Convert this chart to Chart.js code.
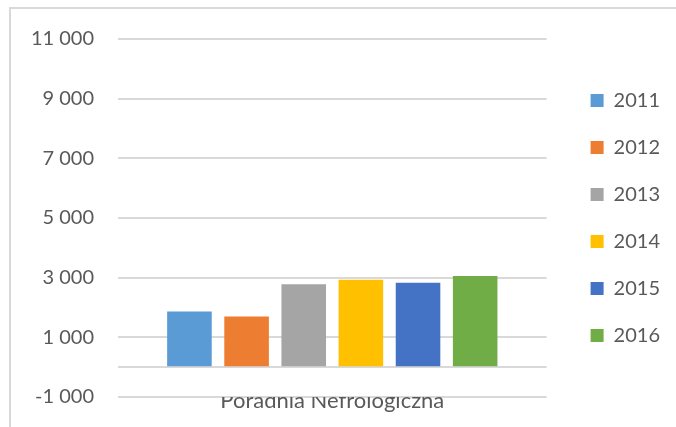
<!DOCTYPE html>
<html>
<head>
<meta charset="utf-8">
<script src="https://cdn.jsdelivr.net/npm/chart.js@4/dist/chart.umd.min.js"></script>
<style>
  html, body { margin: 0; padding: 0; background: #ffffff; }
  #wrap { position: relative; width: 676px; height: 427px; overflow: hidden; }
  #frame {
    position: absolute; left: 9px; top: 7px; right: -4px; bottom: -4px;
    border-top: 2px solid #d9d9d9; border-left: 2px solid #d9d9d9;
  }
  canvas { position: absolute; left: 0; top: 0; }
</style>
</head>
<body>
<div id="wrap">
  <div id="frame"></div>
  <canvas id="chart" width="676" height="427"></canvas>
</div>
<script>
// Number of patients of the nephrology clinic, by year
const categories = ['Poradnia Nefrologiczna'];
const years = ['2011', '2012', '2013', '2014', '2015', '2016'];
const values2011 = [1870];
const values2012 = [1700];
const values2013 = [2780];
const values2014 = [2930];
const values2015 = [2830];
const values2016 = [3060];
const yearColors = ['#5B9BD5', '#ED7D31', '#A5A5A5', '#FFC000', '#4472C4', '#70AD47'];
const yTickValues = [-1000, 0, 1000, 3000, 5000, 7000, 9000, 11000];

const seriesValues = [values2011, values2012, values2013, values2014, values2015, values2016];
const textColor = '#595959';
const fontFamily = 'Lato, "Open Sans", sans-serif';

// "11 000" style thousands grouping
function groupThousands(v) {
  const s = Math.abs(v).toString().replace(/\B(?=(\d{3})+(?!\d))/g, ' ');
  return (v < 0 ? '-' : '') + s;
}

const datasets = years.map((year, i) => ({
  label: year,
  data: seriesValues[i],
  backgroundColor: yearColors[i],
  borderWidth: 0,
  categoryPercentage: 0.80,
  barPercentage: 0.78
}));

new Chart(document.getElementById('chart'), {
  type: 'bar',
  data: { labels: categories, datasets },
  options: {
    responsive: false,
    animation: false,
    layout: { padding: { left: 12, top: 39, right: 6, bottom: 0 } },
    plugins: {
      tooltip: { enabled: false },
      legend: {
        position: 'right',
        align: 'center',
        fullSize: false,
        labels: {
          color: textColor,
          font: { family: fontFamily, size: 20 },
          boxWidth: 13,
          boxHeight: 13,
          padding: 27
        }
      }
    },
    scales: {
      x: {
        z: 1,
        grid: { display: false, drawTicks: false },
        border: { display: false },
        ticks: {
          color: textColor,
          font: { family: fontFamily, size: 22 },
          padding: -9
        },
        afterFit(scale) { scale.height = 30; }
      },
      y: {
        min: -1000,
        max: 11000,
        afterBuildTicks(scale) {
          scale.ticks = yTickValues.map(v => ({ value: v }));
        },
        grid: { color: '#d9d9d9', lineWidth: 2, drawTicks: false },
        border: { display: false },
        ticks: {
          color: textColor,
          font: { family: fontFamily, size: 20 },
          padding: 24,
          callback: v => (v === 0 ? '' : groupThousands(v))
        },
        afterFit(scale) {
          scale.width = 106;
          scale.paddingTop = 0;
          scale.paddingBottom = 0;
        }
      },
      yRightGutter: {
        position: 'right',
        display: true,
        grid: { display: false, drawTicks: false },
        border: { display: false },
        ticks: { display: false },
        afterFit(scale) { scale.width = 17; }
      }
    }
  }
});
</script>
</body>
</html>
